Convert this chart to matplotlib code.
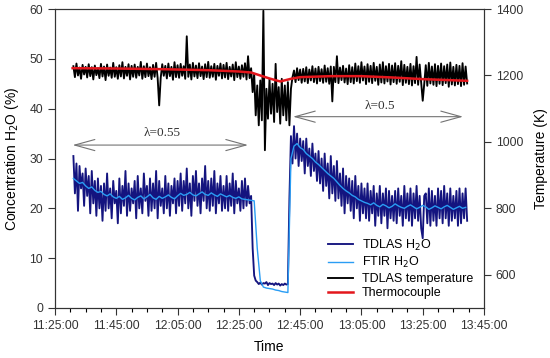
import datetime as dt
import numpy as np
import matplotlib
matplotlib.use("Agg")
import matplotlib.pyplot as plt
import matplotlib.dates as mdates

plt.rcParams['font.family'] = ['Liberation Sans', 'DejaVu Sans']

# TDLAS H2O (%), one reading every 30 s starting 11:31:00
tdlas_h2o = [
    30.5, 23.0, 29.0, 19.5, 28.5, 24.0, 27.0, 20.5, 28.0, 22.5,
    26.5, 19.0, 27.5, 21.0, 25.5, 18.5, 26.0, 20.0, 24.5, 17.5,
    25.0, 19.5, 27.0, 20.0, 24.0, 18.0, 25.5, 21.0, 23.5, 17.0,
    26.0, 19.0, 24.5, 20.5, 27.5, 18.5, 25.0, 19.5, 24.0, 21.0,
    25.5, 18.0, 26.5, 20.0, 24.0, 19.0, 27.0, 21.5, 24.5, 18.5,
    26.0, 19.5, 25.0, 20.0, 27.5, 18.0, 25.5, 20.5, 24.0, 19.0,
    26.5, 20.0, 25.0, 18.5, 24.5, 21.0, 26.0, 19.0, 25.5, 20.5,
    27.0, 19.5, 25.5, 21.0, 28.0, 20.0, 25.0, 18.5, 26.5, 21.5,
    27.5, 20.5, 25.0, 19.0, 26.0, 21.5, 28.5, 20.0, 25.5, 19.5,
    26.0, 20.5, 27.5, 19.0, 25.0, 21.0, 26.5, 19.5, 24.5, 20.0,
    26.5, 19.5, 25.0, 20.5, 27.0, 19.0, 25.5, 21.0, 24.0, 19.5,
    25.5, 20.0, 26.0, 20.5, 24.5, 21.0, 22.5, 12.0, 6.5, 5.5,
    5.2, 4.8, 5.1, 4.7, 5.0, 4.9, 5.2, 4.6, 5.0, 4.8,
    4.9, 4.6, 5.0, 4.7, 4.9, 4.5, 4.8, 4.6, 4.9, 4.7,
    4.8, 22.0, 34.5, 29.0, 36.5, 30.0, 35.0, 28.5, 34.0, 29.5,
    33.5, 27.0, 34.0, 28.5, 32.0, 26.5, 33.0, 27.5, 31.0, 25.5,
    31.5, 25.0, 30.0, 23.5, 31.0, 24.5, 29.0, 22.0, 30.5, 23.0,
    28.5, 21.5, 29.5, 22.0, 27.0, 20.5, 28.0, 19.0, 26.5, 21.0,
    26.0, 19.5, 25.5, 18.0, 26.5, 20.0, 24.5, 17.5, 25.0, 19.0,
    24.0, 18.0, 25.0, 17.5, 23.5, 19.0, 24.5, 16.5, 23.0, 18.5,
    24.5, 17.0, 23.0, 18.5, 24.0, 16.0, 23.5, 18.0, 22.5, 17.5,
    23.5, 17.0, 24.0, 18.5, 22.5, 16.5, 24.5, 18.0, 23.0, 17.5,
    24.0, 16.5, 23.0, 18.0, 24.5, 17.5, 22.5, 16.0, 14.0, 22.5,
    23.0, 17.0, 24.0, 16.5, 23.5, 17.5, 22.5, 16.5, 24.0, 18.0,
    23.5, 17.0, 24.5, 18.0, 23.0, 16.5, 24.0, 17.5, 22.5, 18.0,
    23.5, 16.5, 24.0, 17.0, 23.0, 18.0, 24.0, 17.5,
]

# TDLAS temperature (K), same 30 s timeline
tdlas_temp = [
    1228, 1195, 1236, 1200, 1224, 1190, 1232, 1203, 1226, 1194,
    1234, 1198, 1225, 1188, 1230, 1201, 1222, 1192, 1235, 1197,
    1227, 1186, 1233, 1199, 1224, 1193, 1238, 1196, 1225, 1190,
    1231, 1197, 1240, 1191, 1226, 1199, 1234, 1188, 1229, 1196,
    1233, 1193, 1226, 1200, 1241, 1190, 1228, 1195, 1236, 1198,
    1225, 1189, 1232, 1196, 1238, 1192, 1110, 1193, 1234, 1199,
    1229, 1191, 1236, 1198, 1226, 1187, 1240, 1195, 1231, 1193,
    1235, 1199, 1228, 1190, 1318, 1196, 1233, 1188, 1238, 1197,
    1230, 1192, 1237, 1198, 1227, 1189, 1234, 1195, 1241, 1193,
    1228, 1196, 1235, 1187, 1229, 1199, 1236, 1191, 1232, 1194,
    1238, 1189, 1226, 1197, 1233, 1186, 1240, 1195, 1227, 1190,
    1231, 1196, 1237, 1188, 1258, 1192, 1222, 1150, 1205, 1080,
    1170, 1050, 1185, 1065, 1395, 975, 1160, 1070, 1190, 1085,
    1175, 1060, 1235, 1090, 1165, 1055, 1190, 1080, 1170, 1065,
    1180, 1050, 1160, 1195, 1215, 1180, 1222, 1186, 1218, 1178,
    1220, 1182, 1225, 1177, 1218, 1185, 1228, 1180, 1221, 1176,
    1226, 1183, 1219, 1178, 1230, 1181, 1222, 1175, 1227, 1122,
    1226, 1180, 1258, 1177, 1224, 1186, 1229, 1179, 1221, 1174,
    1231, 1180, 1225, 1176, 1236, 1183, 1228, 1178, 1240, 1185,
    1227, 1174, 1234, 1181, 1229, 1177, 1238, 1184, 1226, 1172,
    1233, 1179, 1240, 1176, 1228, 1182, 1235, 1173, 1230, 1180,
    1237, 1175, 1229, 1181, 1243, 1171, 1232, 1178, 1226, 1174,
    1235, 1170, 1228, 1177, 1256, 1172, 1233, 1179, 1124, 1175,
    1231, 1169, 1238, 1176, 1227, 1172, 1234, 1168, 1229, 1175,
    1236, 1171, 1228, 1177, 1233, 1166, 1239, 1173, 1226, 1170,
    1232, 1174, 1229, 1168, 1237, 1172, 1227, 1176,
]

# FTIR H2O (%), one reading per minute starting 11:31
ftir_h2o = [
    26.0, 25.5, 25.0, 25.2, 24.5, 24.0, 24.3, 23.6, 23.2, 23.4,
    22.8, 22.5, 22.9, 22.3, 22.0, 22.4, 21.8, 22.1, 22.6, 22.0,
    21.7, 22.2, 22.5, 21.9, 22.3, 22.8, 22.1, 21.8, 22.4, 22.0,
    22.3, 22.7, 22.2, 21.9, 22.5, 23.0, 22.6, 22.8, 23.2, 22.7,
    22.5, 22.9, 23.3, 22.8, 22.6, 23.1, 22.7, 22.4, 22.9, 22.6,
    22.3, 22.6, 22.2, 22.0, 22.3, 21.9, 21.8, 21.7, 21.6, 21.5,
    12.0, 5.5, 4.2, 4.0, 3.9, 3.8, 3.6, 3.5, 3.3, 3.2,
    3.1, 30.0, 32.5, 33.0, 32.2, 31.8, 31.0, 30.5, 30.0, 29.3,
    28.8, 28.2, 27.6, 27.0, 26.5, 26.0, 25.3, 24.6, 24.0, 23.5,
    23.1, 22.6, 22.3, 21.8, 21.5, 21.2, 21.0, 20.7, 21.1, 20.6,
    20.3, 20.8, 20.5, 20.1, 20.4, 20.9, 20.5, 20.2, 20.0, 20.4,
    20.7, 20.3, 19.9, 20.2, 20.6, 20.3, 19.8, 20.1, 20.5, 20.2,
    19.9, 20.3, 20.6, 20.2, 19.8, 20.1, 20.4, 20.0, 20.2,
]

# Thermocouple (K)
tc_times = ["11:30:45", "11:45:00", "12:00:00", "12:15:00", "12:25:00", "12:29:00",
            "12:32:00", "12:35:00", "12:38:30", "12:42:00", "12:45:00", "12:55:00",
            "13:05:00", "13:15:00", "13:25:00", "13:39:30"]
tc_temp = [1222, 1221, 1219, 1216, 1212, 1209, 1200, 1191, 1182, 1190, 1195, 1198,
           1198, 1194, 1189, 1184]

day = dt.date(2020, 1, 1)
def at(s):
    return dt.datetime.combine(day, dt.time.fromisoformat(s))

t0 = at("11:31:00")
t_30s = [t0 + dt.timedelta(seconds=30 * i) for i in range(len(tdlas_h2o))]
t_1min = [t0 + dt.timedelta(minutes=i) for i in range(len(ftir_h2o))]
t_tc = [at(s) for s in tc_times]

fig = plt.figure(figsize=(5.5, 3.58), dpi=100)
ax = fig.add_axes([0.1, 0.1397, 0.78, 0.835])
ax2 = ax.twinx()

l1, = ax.plot(t_30s, tdlas_h2o, color='#14147f', lw=1.35, label='TDLAS H$_2$O')
l2, = ax.plot(t_1min, ftir_h2o, color='#2a9df4', lw=1.0, label='FTIR H$_2$O')
l3, = ax2.plot(t_30s, tdlas_temp, color='black', lw=1.35, label='TDLAS temperature')
l4, = ax2.plot(t_tc, tc_temp, color='#e3161c', lw=1.8, label='Thermocouple')

ax.set_xlim(at("11:25:00"), at("13:45:00"))
ax.set_ylim(0, 60)
ax2.set_ylim(500, 1400)
ax.set_yticks(range(0, 61, 10))
ax2.set_yticks(range(600, 1401, 200))

ax.xaxis.set_major_locator(mdates.MinuteLocator(byminute=[5, 25, 45]))
ax.xaxis.set_minor_locator(mdates.MinuteLocator(byminute=range(0, 60, 5)))
ax.xaxis.set_major_formatter(mdates.DateFormatter('%H:%M:%S'))

for a in (ax, ax2):
    a.tick_params(which='major', direction='out', length=5, width=0.8, labelsize=8.7, colors='#333333')
    a.tick_params(which='minor', direction='out', length=3, width=0.8)
    for sp in a.spines.values():
        sp.set_color('#333333')
        sp.set_linewidth(0.8)

ax.set_xlabel('Time', fontsize=10, labelpad=6)
ax.set_ylabel('Concentration H$_2$O (%)', fontsize=10, labelpad=6)
ax2.set_ylabel('Temperature (K)', fontsize=10, labelpad=8)

arrow_style = dict(arrowstyle='<->,head_length=1.45,head_width=0.4', color='0.45',
                   lw=0.8, shrinkA=0, shrinkB=0, mutation_scale=10)
ax.annotate('', xy=(at("12:28:00"), 32.7), xytext=(at("11:30:45"), 32.7), arrowprops=arrow_style)
ax.annotate('', xy=(at("13:38:10"), 38.4), xytext=(at("12:42:40"), 38.4), arrowprops=arrow_style)
ax.text(at("12:00:00"), 35.1, 'λ=0.55', family=['Liberation Serif'], fontsize=9.5,
        ha='center', va='center', color='#333333')
ax.text(at("13:11:00"), 40.5, 'λ=0.5', family=['Liberation Serif'], fontsize=9.5,
        ha='center', va='center', color='#333333')

ax2.legend([l1, l2, l3, l4], [l.get_label() for l in (l1, l2, l3, l4)],
           loc='upper left', bbox_to_anchor=(0.636, 0.235), frameon=False,
           fontsize=9, handlelength=2.0, handletextpad=0.7, labelspacing=0.2,
           borderpad=0, borderaxespad=0)

fig.savefig('out.png', dpi=100)
